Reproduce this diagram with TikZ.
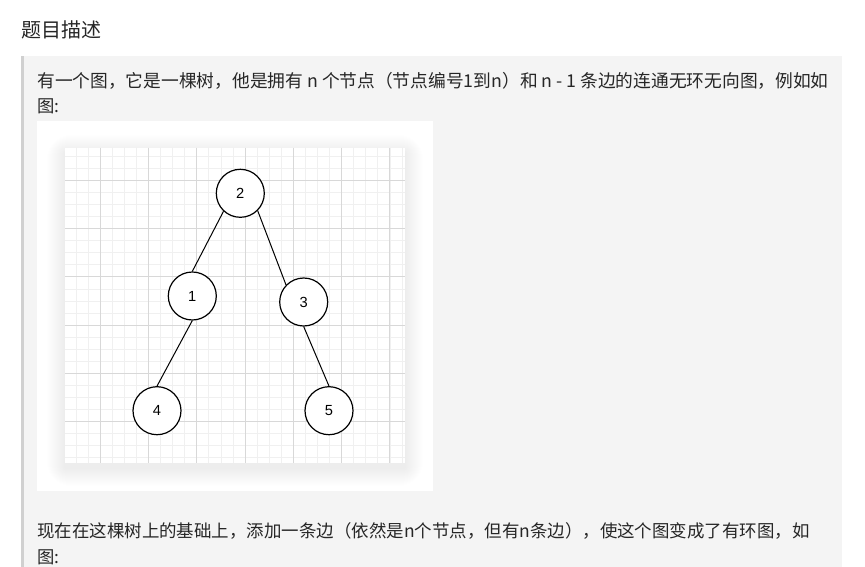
\documentclass[tikz,border=0pt]{standalone}
\usepackage{fontspec}
\setmainfont{Noto Sans CJK SC}
\newfontfamily\labelfont{Liberation Sans}

\definecolor{quotebg}{HTML}{F4F4F4}
\definecolor{quotebar}{HTML}{D0D0D0}
\definecolor{bodytext}{HTML}{262626}
\definecolor{gridmajor}{HTML}{D8D8D8}
\definecolor{gridminor}{HTML}{F0F0F0}

\tikzset{
  treenode/.style={draw=black, circle, line width=0.9pt, fill=white,
    minimum size=36pt, inner sep=0pt, font=\labelfont\fontsize{11}{11}\selectfont},
  treeedge/.style={black, line width=0.75pt},
  bodyline/.style={anchor=base west, inner sep=0pt, text=bodytext,
    font=\fontsize{13}{13}\selectfont},
}

\begin{document}
\begin{tikzpicture}[x=0.75pt, y=-0.75pt]

  \useasboundingbox (0,0) rectangle (865,567);
  \fill[white] (0,0) rectangle (865,567);

  % title and quote block
  \node[bodyline, font=\fontsize{15}{15}\selectfont] (title) at (21,38) {题目描述};
  \fill[quotebg] (24,56) rectangle (842,567);
  \fill[quotebar] (21,56) rectangle (24,567);

  \node[bodyline, font=\fontsize{13.3}{13.3}\selectfont] (lineA) at (37,88) {有一个图，它是一棵树，他是拥有 n 个节点（节点编号1到n）和 n - 1 条边的连通无环无向图，例如如};
  \node[bodyline] (lineB) at (37,113) {图:};

  % picture box with soft shadow
  \fill[white] (37,121) rectangle (433,491);
  \foreach \i in {1,...,18}
  {
    \fill[black, opacity=0.005, rounded corners=\i] (65-\i,148-\i+5) rectangle (405+\i,463+\i+5);
  }
  \begin{scope}
    \clip (65,148) rectangle (405,463);
    \fill[white] (65,148) rectangle (405,463);
    \foreach \k in {-3,...,25}
      \draw[gridminor, line width=0.7pt] ({100.3+12.07*\k},148) -- ++(0,315);
    \foreach \k in {-3,...,23}
      \draw[gridminor, line width=0.7pt] (65,{180.7+12.03*\k}) -- ++(340,0);
    \foreach \k in {0,...,6}
      \draw[gridmajor, line width=0.75pt] ({100.3+48.28*\k},148) -- ++(0,315);
    \foreach \k in {0,...,5}
      \draw[gridmajor, line width=0.75pt] (65,{180.7+48.12*\k}) -- ++(340,0);
  \end{scope}

  % the tree
  \node[treenode] (n2) at (240.3,193.3) {2};
  \node[treenode] (n1) at (192.3,296) {1};
  \node[treenode] (n3) at (303.7,302) {3};
  \node[treenode] (n4) at (157,410.7) {4};
  \node[treenode] (n5) at (329,410.7) {5};

  \draw[treeedge] (n2.227) -- (n1.north);
  \draw[treeedge] (n2.315) -- (n3.136);
  \draw[treeedge] (n1.south) -- (n4.north);
  \draw[treeedge] (n3.south) -- (n5.north);

  \node[bodyline, font=\fontsize{13.1}{13.1}\selectfont] (lineC) at (37,537) {现在在这棵树上的基础上，添加一条边（依然是n个节点，但有n条边），使这个图变成了有环图，如};
  \node[bodyline] (lineD) at (37,563) {图:};

\end{tikzpicture}
\end{document}
